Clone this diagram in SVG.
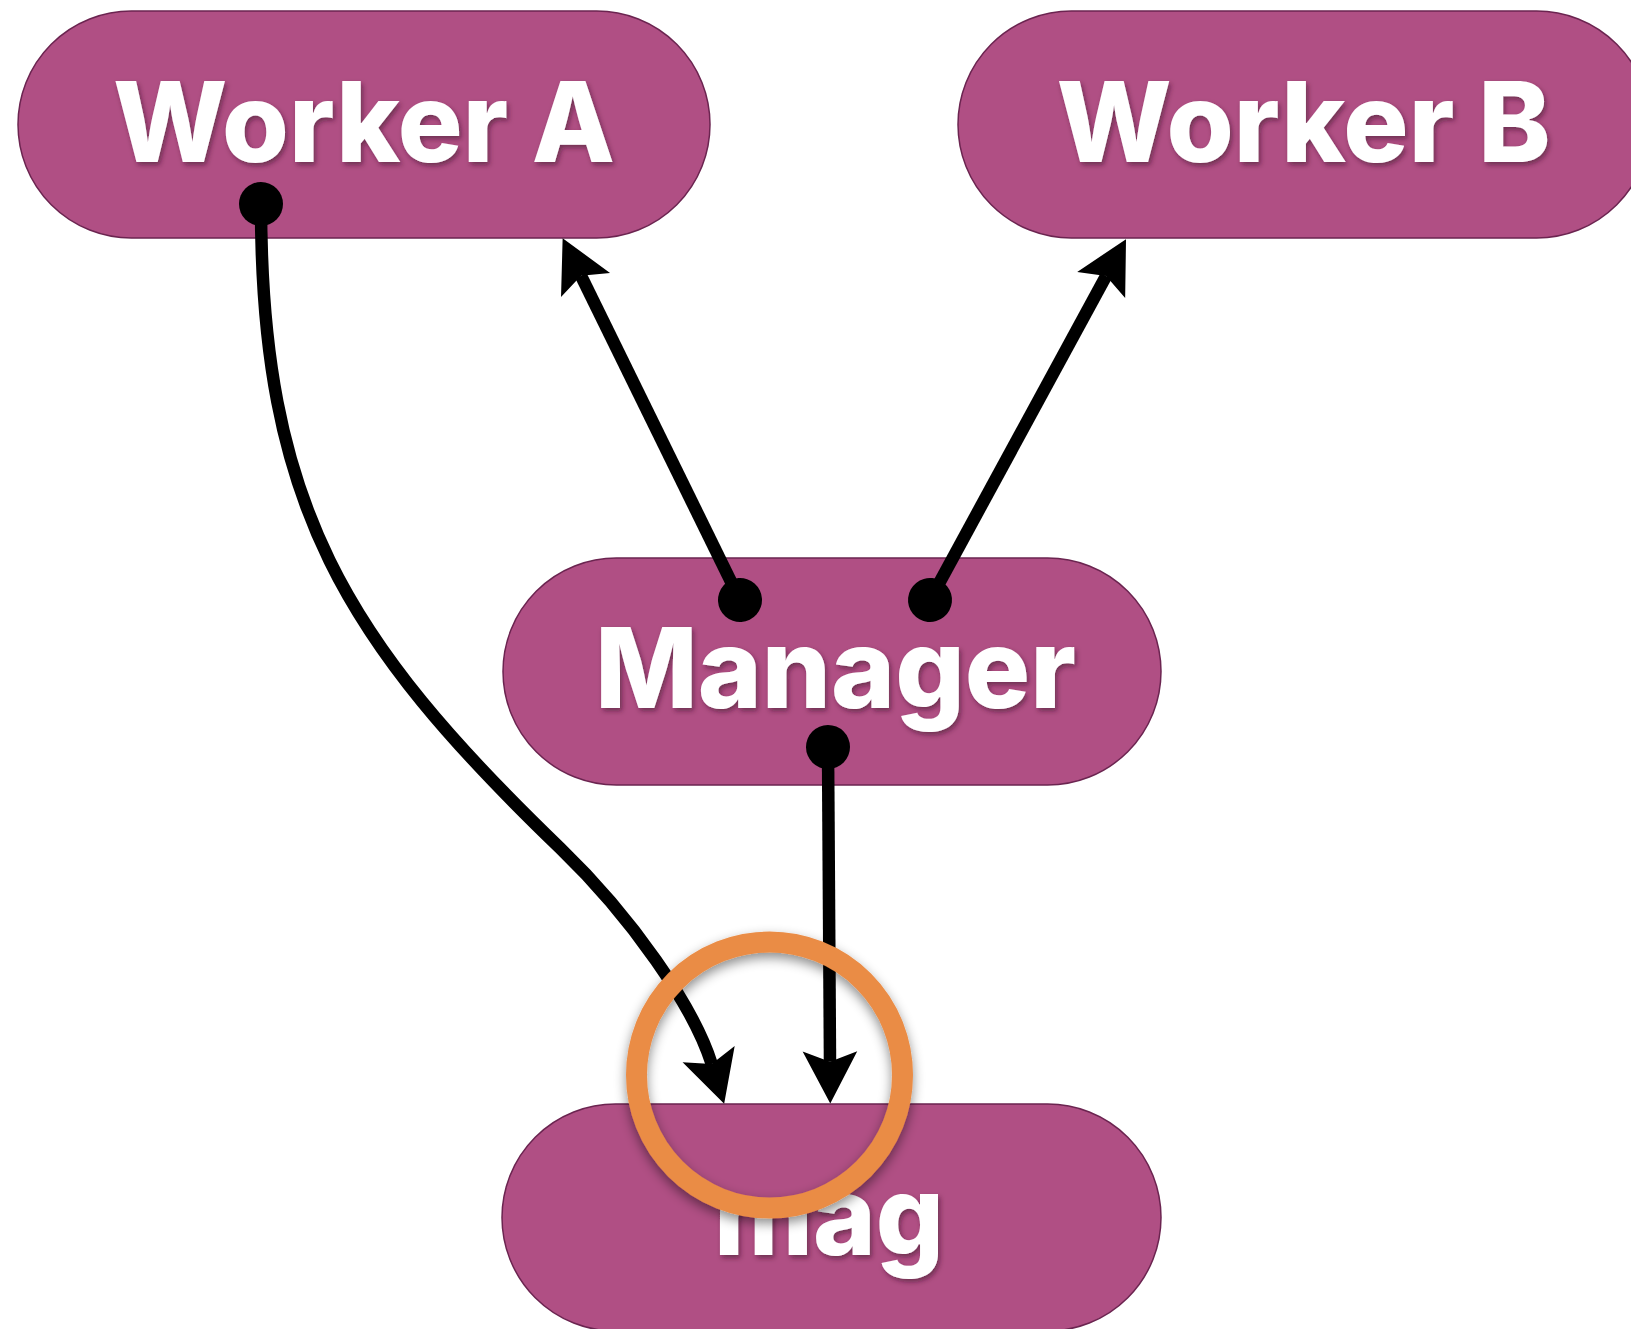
<svg xmlns="http://www.w3.org/2000/svg" width="1631" height="1329" viewBox="0 0 1631 1329">
  <style>
    .node-shape { fill: #B04F84; stroke: #6B2450; stroke-width: 1.5; }
    .node-label { fill: #FFFFFF; font-family: Inter, Roboto, "Liberation Sans", sans-serif; font-weight: 800; font-size: 111px; text-anchor: middle; filter: url(#labelShadow); }
    .edge { fill: none; stroke: #000000; stroke-width: 12.5; stroke-linecap: butt; marker-start: url(#dot); marker-end: url(#arrow); }
    .lens-ring { fill: none; stroke: #EA8C45; stroke-width: 21; filter: url(#ringShadow); }
  </style>
  <defs>
    <filter id="labelShadow" x="-10%" y="-20%" width="120%" height="150%">
      <feDropShadow dx="2" dy="3" stdDeviation="2.5" flood-color="#3A0A25" flood-opacity="0.55"/>
    </filter>
    <filter id="ringShadow" x="-20%" y="-20%" width="140%" height="140%">
      <feDropShadow dx="0" dy="5" stdDeviation="6" flood-color="#000000" flood-opacity="0.45"/>
    </filter>
    <marker id="arrow" markerUnits="userSpaceOnUse" orient="auto" overflow="visible" refX="0" refY="0" markerWidth="1" markerHeight="1">
      <path d="M41.7,0 L-10.3,-27.3 L0,0 L-10.3,27.3 Z" fill="#000000"/>
    </marker>
    <marker id="dot" markerUnits="userSpaceOnUse" orient="auto" overflow="visible" refX="0" refY="0" markerWidth="1" markerHeight="1">
      <circle cx="0" cy="0" r="22" fill="#000000"/>
    </marker>
    <clipPath id="lensClip">
      <circle cx="769.5" cy="1075" r="133"/>
    </clipPath>
  </defs>

  <rect x="0" y="0" width="1631" height="1329" fill="#FFFFFF"/>

  <g id="node-worker-a">
    <rect class="node-shape" x="18" y="11" width="692" height="227" rx="113.5" ry="113.5"/>
    <text class="node-label" x="364" y="162" textLength="502" lengthAdjust="spacingAndGlyphs">Worker A</text>
  </g>

  <g id="node-worker-b">
    <rect class="node-shape" x="958" y="11" width="692" height="227" rx="113.5" ry="113.5"/>
    <text class="node-label" x="1303.6" y="162" textLength="494" lengthAdjust="spacingAndGlyphs">Worker B</text>
  </g>

  <g id="node-manager">
    <rect class="node-shape" x="503" y="558" width="658" height="227" rx="113.5" ry="113.5"/>
    <text class="node-label" x="835.5" y="708" textLength="481" lengthAdjust="spacingAndGlyphs">Manager</text>
  </g>

  <g id="node-mag">
    <rect class="node-shape" x="502" y="1104" width="659" height="227" rx="113.5" ry="113.5"/>
    <text class="node-label" x="829" y="1255" textLength="230" lengthAdjust="spacingAndGlyphs">mag</text>
  </g>

  <!-- lens interior: plain background and node fill, hiding the label beneath -->
  <g id="lens-fill" clip-path="url(#lensClip)">
    <rect x="600" y="930" width="340" height="300" fill="#FFFFFF"/>
    <rect class="node-shape" x="502" y="1104" width="659" height="227" rx="113.5" ry="113.5"/>
  </g>

  <g id="connectors">
    <path class="edge" d="M261,204 C261,504 344,639.8 560,848 C632,917.4 693.8,1006.8 711.7,1064"/>
    <path class="edge" d="M740,600 L581,275.7"/>
    <path class="edge" d="M930,600 L1106.1,275.9"/>
    <path class="edge" d="M828,747 L830,1061.7"/>
  </g>

  <g id="lens">
    <circle class="lens-ring" cx="769.5" cy="1075" r="133"/>
  </g>
</svg>
